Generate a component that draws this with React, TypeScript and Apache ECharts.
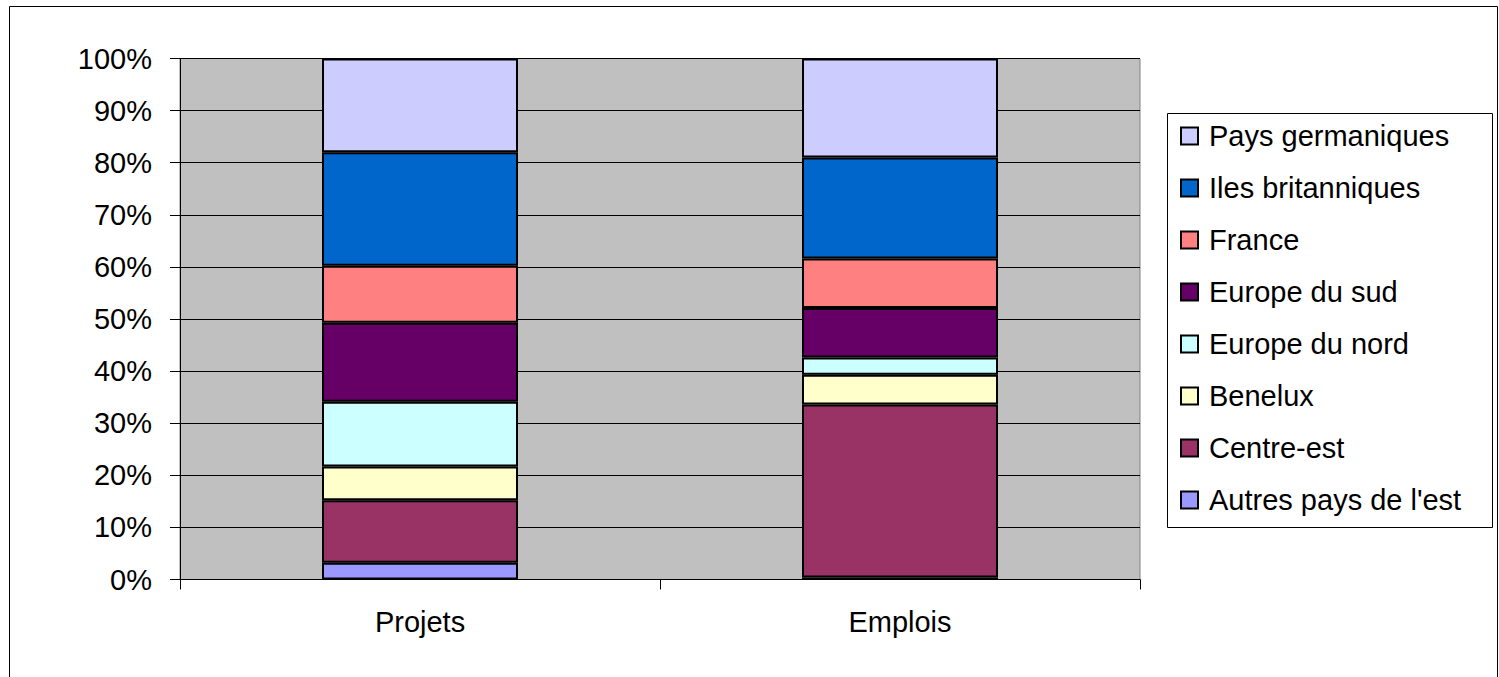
import React, { useEffect, useRef } from "react";
import * as echarts from "echarts";

const categories = ["Projets", "Emplois"];
const seriesNames = [
  "Autres pays de l'est",
  "Centre-est",
  "Benelux",
  "Europe du nord",
  "Europe du sud",
  "France",
  "Iles britanniques",
  "Pays germaniques",
];
const autresEst = [3.2, 0.4];
const centreEst = [12.0, 33.2];
const benelux = [6.5, 5.7];
const europeNord = [12.4, 3.3];
const europeSud = [15.2, 9.5];
const france = [10.9, 9.5];
const ilesBritanniques = [21.8, 19.4];
const paysGermaniques = [18.0, 19.0];
const seriesValues = [autresEst, centreEst, benelux, europeNord, europeSud, france, ilesBritanniques, paysGermaniques];
const colors = ["#9999FF", "#993366", "#FFFFCC", "#CCFFFF", "#660066", "#FF8080", "#0066CC", "#CCCCFF"];

const FONT = "Liberation Sans, Arial, sans-serif";

export default function App() {
  const ref = useRef<HTMLDivElement>(null);
  useEffect(() => {
    document.body.style.margin = "0";
    const chart = echarts.init(ref.current!, null, { renderer: "svg" });
    chart.setOption({
      animation: false,
      backgroundColor: "#ffffff",
      textStyle: { fontFamily: FONT },
      grid: {
        left: 180,
        top: 58.5,
        width: 960,
        height: 521,
        show: true,
        backgroundColor: "#C0C0C0",
        borderColor: "#808080",
        borderWidth: 1,
      },
      legend: {
        orient: "vertical",
        left: 1180,
        top: 121,
        padding: 0,
        data: [...seriesNames].reverse(),
        itemWidth: 17,
        itemHeight: 17,
        itemGap: 22,
        icon: "rect",
        textStyle: { fontSize: 29, color: "#000", fontFamily: FONT, lineHeight: 30, padding: [0, 0, 0, 6] },
      },
      graphic: [
        { type: "rect", shape: { x: 9.5, y: 6.5, width: 1488, height: 690 }, style: { fill: "none", stroke: "#000", lineWidth: 1 }, silent: true, z: -1 },
        { type: "rect", shape: { x: 1167.5, y: 113.5, width: 325, height: 414 }, style: { fill: "#fff", stroke: "#000", lineWidth: 1 }, silent: true, z: 0 },
      ],
      xAxis: {
        type: "category",
        data: categories,
        axisLine: { show: true, lineStyle: { color: "#000", width: 1 } },
        axisTick: { show: true, length: 10, lineStyle: { color: "#000" } },
        axisLabel: { fontSize: 29, color: "#000", margin: 28, fontFamily: FONT },
      },
      yAxis: {
        type: "value",
        min: 0,
        max: 100,
        interval: 10,
        axisLine: { show: true, lineStyle: { color: "#000", width: 1 } },
        axisTick: { show: true, length: 10, lineStyle: { color: "#000" } },
        axisLabel: { fontSize: 29, color: "#000", margin: 28, formatter: "{value}%", fontFamily: FONT },
        splitLine: { show: true, lineStyle: { color: "#000", width: 1 } },
      },
      series: seriesNames.map((name, i) => ({
        name,
        type: "bar",
        stack: "total",
        barWidth: 196,
        data: seriesValues[i],
        itemStyle: { color: colors[i], borderColor: "#000", borderWidth: 2 },
        emphasis: { disabled: true },
      })),
    });
    return () => chart.dispose();
  }, []);
  return <div ref={ref} style={{ width: 1499, height: 677 }} />;
}
